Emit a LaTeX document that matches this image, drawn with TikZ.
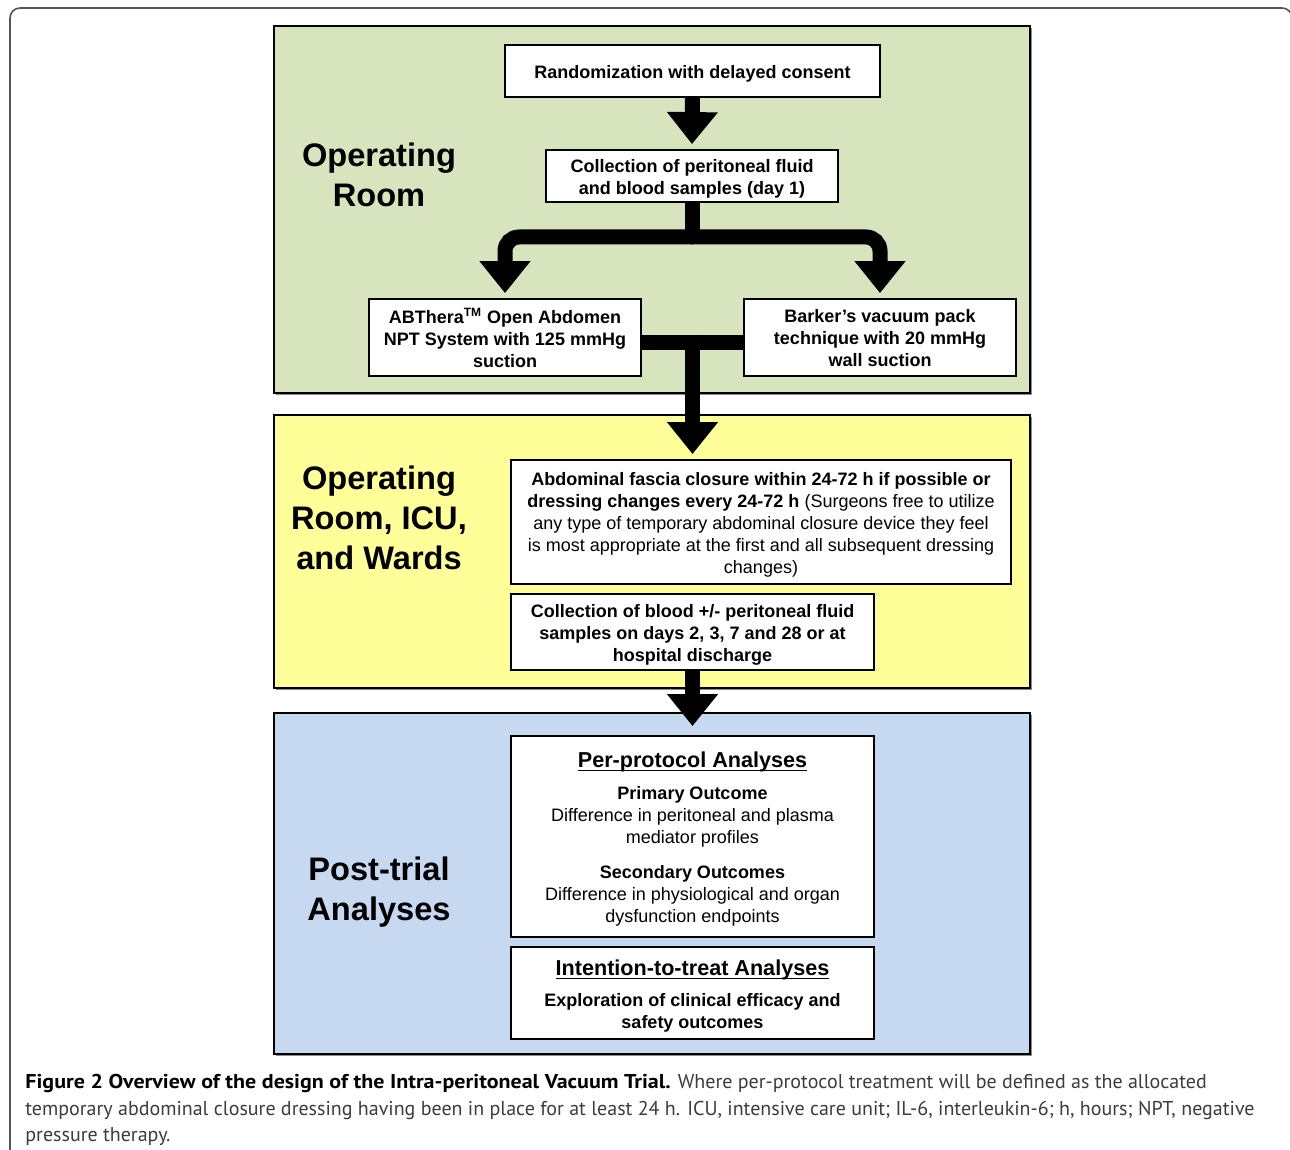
\documentclass[tikz,border=0pt]{standalone}
\usepackage{fontspec}
\setmainfont{Liberation Sans}
\newfontfamily\capfont{PT Sans}
\usetikzlibrary{arrows.meta,shadows}
\definecolor{opgreen}{HTML}{D8E4BD}
\definecolor{wardyellow}{HTML}{FFFF99}
\definecolor{postblue}{HTML}{C6D9F0}
\definecolor{capgray}{HTML}{3C3C3C}
\definecolor{framegray}{HTML}{555555}
\newcommand\myul[1]{\setbox0\hbox{#1}\rlap{\rule[-2.2pt]{\wd0}{0.8pt}}\box0}
\begin{document}
\begin{tikzpicture}[x=0.5pt,y=-0.5pt,
  band/.style={draw=black, line width=1.1pt, inner sep=0pt,
    drop shadow={shadow xshift=0.8pt, shadow yshift=-0.8pt, fill=black!45, opacity=1}},
  box/.style={draw=black, line width=0.9pt, fill=white, inner sep=0pt,
    drop shadow={shadow xshift=0.6pt, shadow yshift=-0.6pt, fill=black!40, opacity=1}},
  boxtext/.style={align=center, inner sep=0pt, yshift=-1.2pt,
    font=\fontsize{9}{11}\selectfont\bfseries},
  heading/.style={align=center, inner sep=0pt, font=\fontsize{16.3}{20}\selectfont\bfseries},
  lbl/.style={anchor=base, inner sep=0pt, font=\fontsize{9}{11}\selectfont},
  lblbold/.style={lbl, font=\fontsize{9}{11}\selectfont\bfseries},
  lblhead/.style={lbl, font=\fontsize{10.8}{13}\selectfont\bfseries},
  caption/.style={anchor=base west, inner sep=0pt, font=\capfont\fontsize{10}{13}\selectfont, text=capgray},
  shaft/.style={line width=7.5pt},
  bigarrow/.style={line width=7.5pt, -{Triangle[width=24.5pt,length=16pt]}}
]
\useasboundingbox (0,0) rectangle (1290,1150);
\fill[white] (0,0) rectangle (1290,1150);
% outer frame
\draw[framegray, line width=0.8pt, rounded corners=5pt] (10,1170) -- (10,8) -- (1292,8) -- (1292,1170);

% bands
\node[band, fill=opgreen, minimum width=378pt, minimum height=183.5pt] (bandA) at (652,209.5) {};
\node[band, fill=wardyellow, minimum width=378pt, minimum height=136.5pt] (bandB) at (652,551.5) {};
\node[band, fill=postblue, minimum width=378pt, minimum height=170.5pt] (bandC) at (652,883.5) {};

% band headings
\node[heading] (hA) at (379,175) {Operating\\Room};
\node[heading] (hB) at (379,518) {Operating\\Room, ICU,\\and Wards};
\node[heading] (hC) at (379,892) {Post-trial\\Analyses};

% boxes
\node[box, minimum width=187.5pt, minimum height=26pt] (rand) at (692.5,71) {};
\node[boxtext] (randT) at (rand.center) {Randomization with delayed consent};
\node[box, minimum width=146pt, minimum height=26pt] (coll1) at (692,176) {};
\node[boxtext] (coll1T) at (coll1.center) {Collection of peritoneal fluid\\and blood samples (day 1)};
\node[box, minimum width=136pt, minimum height=38.5pt] (abthera) at (505,337.5) {};
\node[boxtext, yshift=1pt] (abtheraT) at (abthera.center) {ABThera\textsuperscript{TM} Open Abdomen\\NPT System with 125 mmHg\\suction};
\node[box, minimum width=136pt, minimum height=38.5pt] (barker) at (880,337.5) {};
\node[boxtext, yshift=1pt] (barkerT) at (barker.center) {Barker’s vacuum pack\\technique with 20 mmHg\\wall suction};
\node[box, minimum width=250pt, minimum height=62pt] (abd) at (761,522) {};
\node[boxtext] (abdT) at (abd.center) {Abdominal fascia closure within 24-72 h if possible or\\dressing changes every 24-72 h \mdseries(Surgeons free to utilize\\\mdseries any type of temporary abdominal closure device they feel\\\mdseries is most appropriate at the first and all subsequent dressing\\\mdseries changes)};
\node[box, minimum width=181.5pt, minimum height=38pt] (coll2) at (692.5,632) {};
\node[boxtext] (coll2T) at (coll2.center) {Collection of blood +/- peritoneal fluid\\samples on days 2, 3, 7 and 28 or at\\hospital discharge};
\node[box, minimum width=181.5pt, minimum height=100.5pt] (pp) at (692.5,836.5) {};
\node[box, minimum width=181.5pt, minimum height=46pt] (itt) at (692.5,993) {};

% per-protocol content
\node[lblhead] (ppH) at (692.5,767) {\myul{Per-protocol Analyses}};
\node[lblbold] (ppP) at (692.5,799) {Primary Outcome};
\node[lbl] (ppP1) at (692.5,821) {Difference in peritoneal and plasma};
\node[lbl] (ppP2) at (692.5,843) {mediator profiles};
\node[lblbold] (ppS) at (692.5,878) {Secondary Outcomes};
\node[lbl] (ppS1) at (692.5,900) {Difference in physiological and organ};
\node[lbl] (ppS2) at (692.5,922) {dysfunction endpoints};

% ITT content
\node[lblhead] (ittH) at (692.5,975) {\myul{Intention-to-treat Analyses}};
\node[lblbold] (itt1) at (692.5,1006) {Exploration of clinical efficacy and};
\node[lblbold] (itt2) at (692.5,1028) {safety outcomes};

% connectors
\draw[bigarrow] (rand.south) -- ([yshift=2.5pt]coll1.north);
\coordinate (split) at (692,237);
\draw[shaft] (coll1.south) -- (split);
\draw[bigarrow, rounded corners=7pt] ([xshift=0.5pt]split) -| ([yshift=2.5pt]abthera.north);
\draw[bigarrow, rounded corners=7pt] ([xshift=-0.5pt]split) -| ([yshift=2.5pt]barker.north);
\coordinate (merge) at (692.5,342);
\draw[shaft] (abthera.east |- merge) -- (barker.west |- merge);
\draw[bigarrow, shorten >=2.5pt] ([yshift=3.7pt]merge) -- (merge |- abd.north);
\draw[bigarrow, shorten >=4.5pt] (coll2.south) -- (coll2.south |- pp.north);

% caption
\node[caption] (cap1) at (25,1088) {\textcolor{black}{\bfseries\addfontfeature{FakeStretch=1.1}Figure 2 Overview of the design of the Intra-peritoneal Vacuum Trial.} Where per-protocol treatment will be defined as the allocated};
\node[caption] (cap2) at (25,1115) {temporary abdominal closure dressing having been in place for at least 24 h. ICU, intensive care unit; IL-6, interleukin-6; h, hours; NPT, negative};
\node[caption] (cap3) at (25,1141) {pressure therapy.};
\end{tikzpicture}
\end{document}
